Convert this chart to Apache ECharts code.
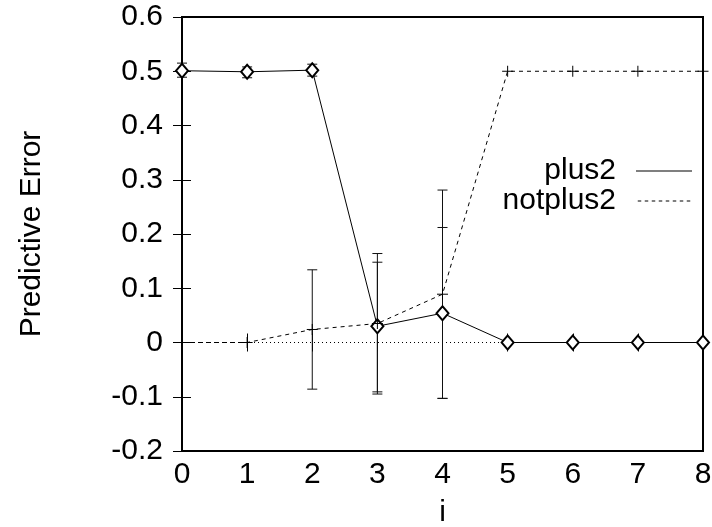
<!DOCTYPE html>
<html>
<head>
<meta charset="utf-8">
<script src="https://cdn.jsdelivr.net/npm/echarts@6/dist/echarts.min.js"></script>
<style>
  html, body { margin: 0; padding: 0; background: #fff; }
  #chart { width: 712px; height: 527px; }
</style>
</head>
<body>
<div id="chart"></div>
<script>
const xValues = [0, 1, 2, 3, 4, 5, 6, 7, 8]
const plus2 = [0.501, 0.499, 0.502, 0.03, 0.054, 0, 0, 0, 0]
const plus2Low = [0.489, 0.488, 0.491, -0.091, -0.103, 0, 0, 0, 0]
const plus2High = [0.515, 0.508, 0.513, 0.148, 0.212, 0, 0, 0, 0]
const notplus2 = [0, 0, 0.024, 0.035, 0.089, 0.5, 0.5, 0.5, 0.5]
const notplus2Low = [0, 0, -0.086, -0.095, -0.103, 0.5, 0.5, 0.5, 0.5]
const notplus2High = [0, 0, 0.134, 0.164, 0.281, 0.5, 0.5, 0.5, 0.5]

const font = "'Liberation Sans', Arial, Helvetica, sans-serif"
const black = '#000'
const fontSize = 30

const pairs = (ys) => xValues.map((x, i) => [x, ys[i]])
const bars = (lo, hi) => xValues.map((x, i) => [x, lo[i], hi[i]])

// legend samples (solid / dashed strokes)
const solidIcon = 'path://M0,0H56V1H0Z'
let dashIcon = 'path://'
for (let i = 0; i < 8; i++) dashIcon += 'M' + (i * 7) + ',0h3.5v1h-3.5Z'

// error bar: vertical stroke plus two caps
function errorBar(params, api) {
  const x = api.value(0)
  const lo = api.value(1)
  const hi = api.value(2)
  if (lo === hi) return null
  const a = api.coord([x, lo])
  const b = api.coord([x, hi])
  const w = 5
  const style = { stroke: '#111', lineWidth: 1 }
  return {
    type: 'group',
    children: [
      { type: 'line', shape: { x1: a[0], y1: a[1], x2: b[0], y2: b[1] }, style },
      { type: 'line', shape: { x1: a[0] - w, y1: a[1], x2: a[0] + w, y2: a[1] }, style },
      { type: 'line', shape: { x1: b[0] - w, y1: b[1], x2: b[0] + w, y2: b[1] }, style }
    ]
  }
}

const tick = { show: true, inside: true, length: 9, lineStyle: { color: black, width: 1 } }
const label = { fontSize, color: black, fontFamily: font }

const myChart = echarts.init(document.getElementById('chart'))
const option = {
  animation: false,
  backgroundColor: '#fff',
  textStyle: { fontFamily: font },
  grid: {
    left: 182, right: 9, top: 17, bottom: 76,
    containLabel: false,
    outerBoundsMode: 'none',
    show: true, borderColor: black, borderWidth: 2
  },
  legend: {
    orient: 'vertical',
    align: 'right',
    right: 15,
    top: 151,
    itemWidth: 56,
    itemHeight: 1,
    itemGap: 0,
    textStyle: { ...label, padding: [0, 15, 0, 0] },
    data: [
      { name: 'plus2', icon: solidIcon, itemStyle: { color: black, borderWidth: 0 } },
      { name: 'notplus2', icon: dashIcon, itemStyle: { color: black, borderWidth: 0 } }
    ]
  },
  xAxis: [
    {
      type: 'value', min: 0, max: 8, interval: 1,
      name: 'i', nameLocation: 'middle', nameGap: 47,
      nameMoveOverlap: false,
      nameTextStyle: label,
      axisLine: { show: false },
      axisTick: tick,
      axisLabel: { ...label, margin: 9 },
      splitLine: { show: false }
    },
    {
      type: 'value', min: 0, max: 8, interval: 1, position: 'top',
      axisLine: { show: false }, axisTick: tick,
      axisLabel: { show: false }, splitLine: { show: false }
    }
  ],
  yAxis: [
    {
      type: 'value', min: -0.2, max: 0.6, interval: 0.1,
      name: 'Predictive Error', nameLocation: 'middle', nameGap: 135,
      nameMoveOverlap: false,
      nameTextStyle: label,
      axisLine: { show: false },
      axisTick: tick,
      axisLabel: {
        ...label, margin: 19,
        formatter: (v) => String(Math.round(v * 10) / 10)
      },
      splitLine: { show: false }
    },
    {
      type: 'value', min: -0.2, max: 0.6, interval: 0.1, position: 'right',
      axisLine: { show: false }, axisTick: tick,
      axisLabel: { show: false }, splitLine: { show: false }
    }
  ],
  series: [
    {
      name: 'zero',
      type: 'line',
      data: [[0, 0], [8, 0]],
      symbol: 'none',
      lineStyle: { color: black, width: 1, type: [1, 3] },
      z: 1
    },
    {
      name: 'plus2',
      type: 'line',
      data: pairs(plus2),
      symbol: 'emptyDiamond',
      symbolSize: [12, 14],
      itemStyle: { color: black, borderColor: black, borderWidth: 1 },
      lineStyle: { color: black, width: 1, type: 'solid' },
      z: 3
    },
    {
      name: 'notplus2',
      type: 'line',
      data: pairs(notplus2),
      symbol: 'path://M0,5L10,5M5,0L5,10',
      symbolSize: 11,
      itemStyle: { color: 'none', borderColor: black, borderWidth: 1 },
      lineStyle: { color: black, width: 1, type: [4, 4] },
      z: 3
    },
    {
      name: 'plus2Err',
      type: 'custom',
      renderItem: errorBar,
      data: bars(plus2Low, plus2High),
      z: 2
    },
    {
      name: 'notplus2Err',
      type: 'custom',
      renderItem: errorBar,
      data: bars(notplus2Low, notplus2High),
      z: 2
    }
  ]
}
myChart.setOption(option)
</script>
</body>
</html>
